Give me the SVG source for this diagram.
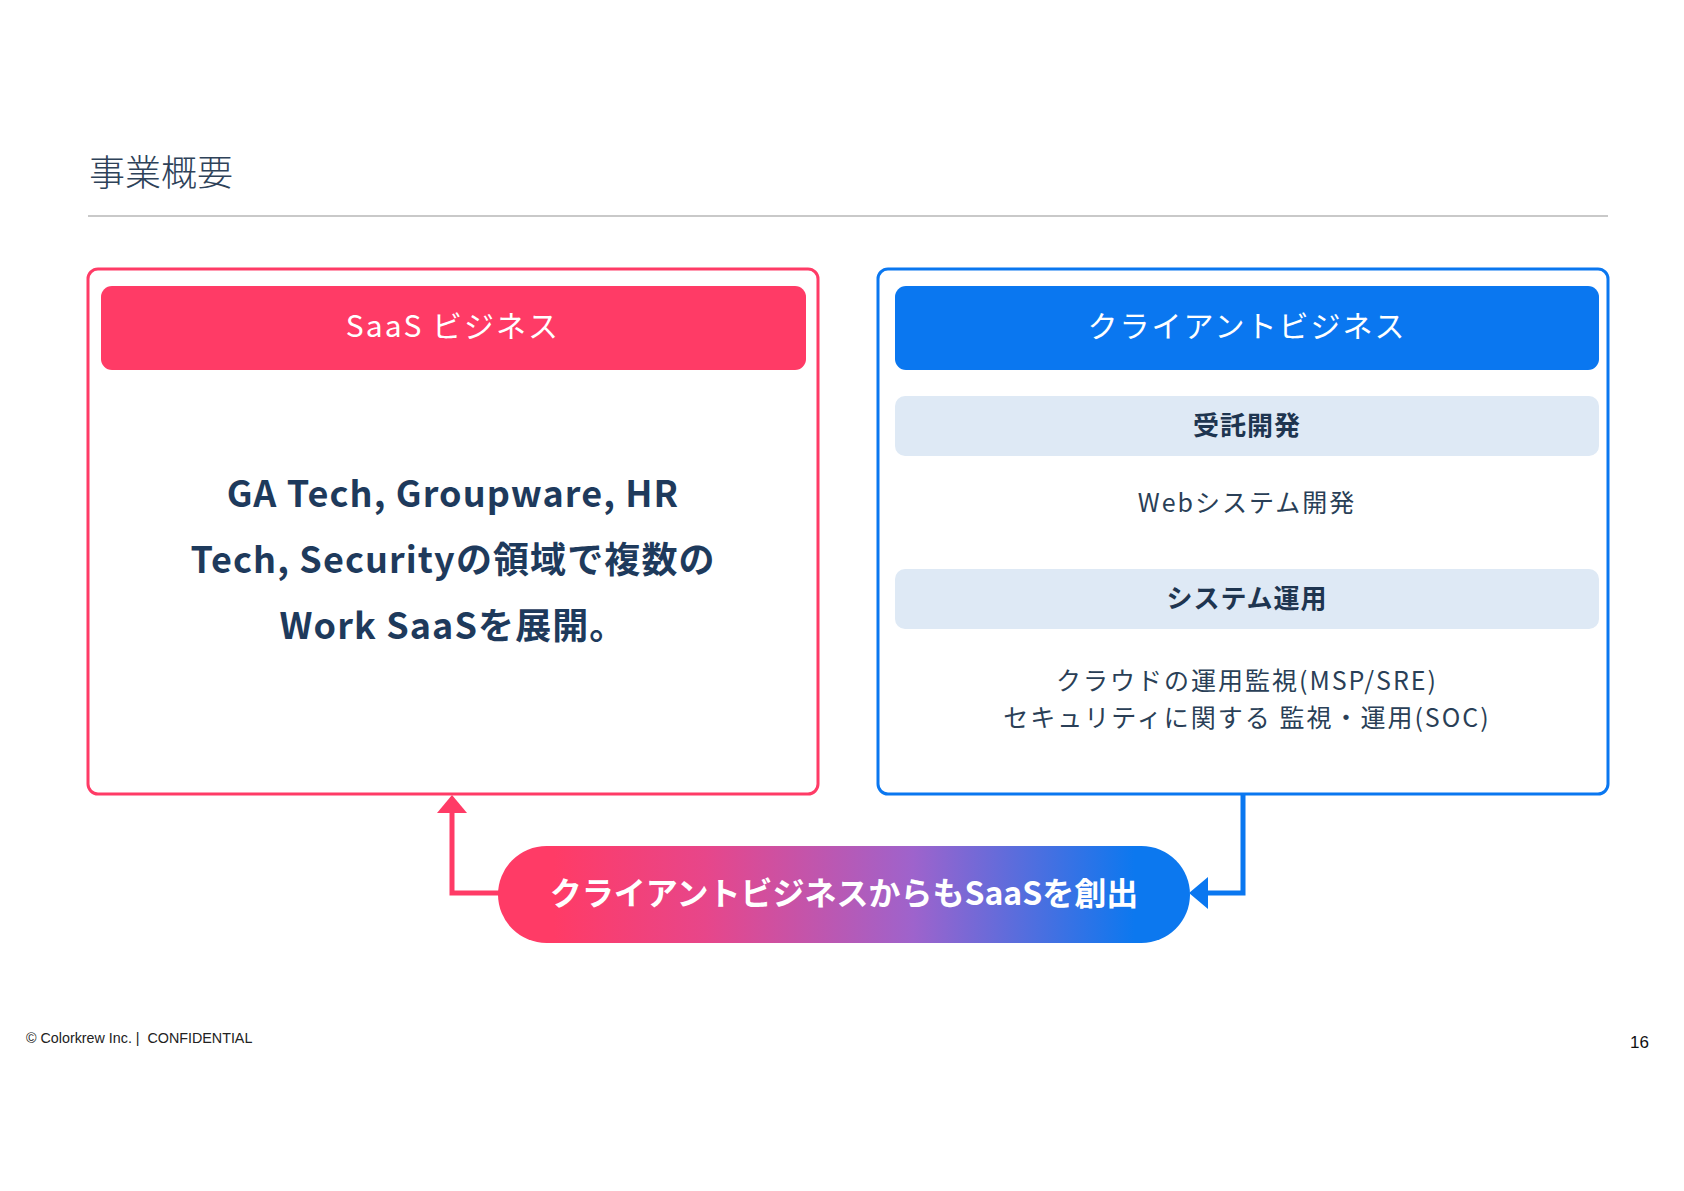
<svg xmlns="http://www.w3.org/2000/svg" width="1684" height="1191" viewBox="0 0 1684 1191">
<defs>
<style>
.jp{font-family:"Noto Sans CJK JP","Noto Sans",sans-serif}
.hdr{font-size:30px;fill:#fff;letter-spacing:2px;text-anchor:middle}
.sub{font-size:26px;font-weight:bold;fill:#1E3550;letter-spacing:1px;text-anchor:middle}
.body{font-size:25px;fill:#2A3F57;letter-spacing:2px;text-anchor:middle}
.main{font-size:36px;font-weight:bold;fill:#1E3A5C;letter-spacing:1.1px;text-anchor:middle}
</style>
<linearGradient id="pill" x1="0" y1="0" x2="1" y2="0">
<stop offset="0.08" stop-color="#FF3B66"/>
<stop offset="0.3" stop-color="#E7468A"/>
<stop offset="0.6" stop-color="#9E63CC"/>
<stop offset="0.92" stop-color="#0C78EF"/>
</linearGradient>
</defs>
<rect width="1684" height="1191" fill="#fff"/>
<g id="title">
<text x="89" y="186" class="jp" font-size="36" fill="#2E4259" font-weight="300">事業概要</text>
<line x1="88" y1="216" x2="1608" y2="216" stroke="#C9C9C9" stroke-width="2"/>
</g>
<g id="saas">
<rect x="88" y="269" width="730" height="525" rx="10" fill="#fff" stroke="#FF3B66" stroke-width="3"/>
<rect x="101" y="286" width="705" height="84" rx="11" fill="#FF3B66"/>
<text x="453" y="337" class="jp hdr">SaaS ビジネス</text>
<text x="453" y="507" class="jp main">GA Tech, Groupware, HR</text>
<text x="453" y="573" class="jp main">Tech, Securityの領域で複数の</text>
<text x="453" y="639" class="jp main">Work SaaSを展開。</text>
</g>
<g id="client">
<rect x="878" y="269" width="730" height="525" rx="10" fill="#fff" stroke="#0A77F0" stroke-width="3"/>
<rect x="895" y="286" width="704" height="84" rx="11" fill="#0A77F0"/>
<text x="1247" y="337" class="jp hdr">クライアントビジネス</text>
<rect x="895" y="396" width="704" height="60" rx="10" fill="#DEE9F5"/>
<text x="1247" y="435" class="jp sub">受託開発</text>
<text x="1247" y="512" class="jp body">Webシステム開発</text>
<rect x="895" y="569" width="704" height="60" rx="10" fill="#DEE9F5"/>
<text x="1247" y="608" class="jp sub">システム運用</text>
<text x="1247" y="690" class="jp body">クラウドの運用監視(MSP/SRE)</text>
<text x="1247" y="727" class="jp body">セキュリティに関する 監視・運用(SOC)</text>
</g>
<g id="connectors" fill="none" stroke-width="5">
<polyline points="500,893 452,893 452,810" stroke="#FF3B66"/>
<polygon points="452,795 437,813 467,813" fill="#FF3B66" stroke="none"/>
<polyline points="1243,795 1243,893 1205,893" stroke="#0A77F0"/>
<polygon points="1189,893 1208,877 1208,909" fill="#0A77F0" stroke="none"/>
</g>
<g id="create">
<rect x="498" y="846" width="692" height="97" rx="48.5" fill="url(#pill)"/>
<text x="844" y="905" class="jp" font-size="32" font-weight="bold" fill="#fff" text-anchor="middle">クライアントビジネスからもSaaSを創出</text>
</g>
<g id="footer">
<text x="26" y="1043" font-family="Liberation Sans, sans-serif" font-size="14.3" fill="#222" xml:space="preserve">© Colorkrew Inc. |  CONFIDENTIAL</text>
<text x="1649" y="1048" font-family="Liberation Sans, sans-serif" font-size="17" fill="#111" text-anchor="end">16</text>
</g>
</svg>
